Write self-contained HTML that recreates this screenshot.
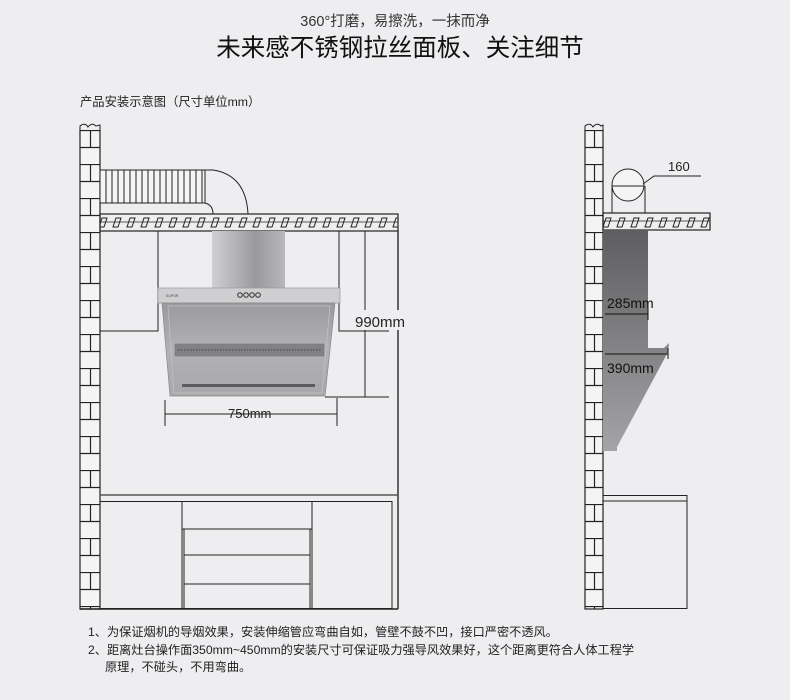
<!DOCTYPE html>
<html><head><meta charset="utf-8"><style>
html,body{margin:0;padding:0;background:#eeeef0;}
svg{display:block;font-family:"Liberation Sans","Noto Sans CJK SC",sans-serif;}
</style></head><body>
<svg width="790" height="700" viewBox="0 0 790 700" xmlns="http://www.w3.org/2000/svg">
<defs>
<pattern id="brickL" x="80" y="130" width="20" height="34" patternUnits="userSpaceOnUse">
<rect width="20" height="34" fill="#f4f4f5"/>
<line x1="0" y1="0.5" x2="20" y2="0.5" stroke="#222" stroke-width="1.2"/>
<line x1="0" y1="17.5" x2="20" y2="17.5" stroke="#222" stroke-width="1.2"/>
<line x1="10.5" y1="0" x2="10.5" y2="17" stroke="#222" stroke-width="1.2"/>
</pattern>
<pattern id="brickR" x="585" y="130" width="18" height="34" patternUnits="userSpaceOnUse">
<rect width="18" height="34" fill="#f4f4f5"/>
<line x1="0" y1="0.5" x2="18" y2="0.5" stroke="#222" stroke-width="1.2"/>
<line x1="0" y1="17.5" x2="18" y2="17.5" stroke="#222" stroke-width="1.2"/>
<line x1="9.5" y1="0" x2="9.5" y2="17" stroke="#222" stroke-width="1.2"/>
</pattern>
<pattern id="hatch" x="0" y="214" width="14" height="17" patternUnits="userSpaceOnUse">
<path d="M4 4 L9 4 L6 13 L1 13 Z" fill="none" stroke="#222" stroke-width="1"/>
</pattern>
<linearGradient id="hoodg" x1="0" y1="0" x2="0" y2="1">
<stop offset="0" stop-color="#9a9a9c"/><stop offset="0.5" stop-color="#b2b2b4"/><stop offset="1" stop-color="#a8a8aa"/>
</linearGradient>
<linearGradient id="chim" x1="0" y1="0" x2="1" y2="0">
<stop offset="0" stop-color="#d0d0d2"/><stop offset="0.6" stop-color="#9a9a9c"/><stop offset="1" stop-color="#b8b8ba"/>
</linearGradient>
<linearGradient id="side" x1="0" y1="0" x2="0" y2="1">
<stop offset="0" stop-color="#5e5e60"/><stop offset="1" stop-color="#a4a4a6"/>
</linearGradient>
</defs>

<text x="395" y="26" font-size="14.5" fill="#333" text-anchor="middle">360°打磨，易擦洗，一抹而净</text>
<text x="400" y="56" font-size="24.5" fill="#111" text-anchor="middle">未来感不锈钢拉丝面板、关注细节</text>
<text x="80" y="106" font-size="12.3" fill="#222">产品安装示意图（尺寸单位mm）</text>

<!-- LEFT DRAWING -->
<rect x="80" y="130" width="20" height="479" fill="url(#brickL)" stroke="#222" stroke-width="1.2"/>
<path d="M80 130 L80 126 Q85 122 88 127 Q92 122 96 126 L100 125 L100 130" fill="#eeeef0" stroke="#222"/>
<rect x="100" y="170" width="105" height="33" fill="#f4f4f5" stroke="#222"/>
<g stroke="#222" stroke-width="1">
<line x1="106" y1="170" x2="106" y2="203"/><line x1="112" y1="170" x2="112" y2="203"/><line x1="118" y1="170" x2="118" y2="203"/><line x1="124" y1="170" x2="124" y2="203"/><line x1="130" y1="170" x2="130" y2="203"/><line x1="136" y1="170" x2="136" y2="203"/><line x1="142" y1="170" x2="142" y2="203"/><line x1="148" y1="170" x2="148" y2="203"/><line x1="154" y1="170" x2="154" y2="203"/><line x1="160" y1="170" x2="160" y2="203"/><line x1="166" y1="170" x2="166" y2="203"/><line x1="172" y1="170" x2="172" y2="203"/><line x1="178" y1="170" x2="178" y2="203"/><line x1="184" y1="170" x2="184" y2="203"/><line x1="190" y1="170" x2="190" y2="203"/><line x1="196" y1="170" x2="196" y2="203"/><line x1="202" y1="170" x2="202" y2="203"/>
</g>
<path d="M205 170 L213 170 Q246 175 248 214" fill="none" stroke="#222"/>
<path d="M205 203 Q213 205 213 214" fill="none" stroke="#222"/>
<rect x="100" y="214" width="298" height="17" fill="url(#hatch)" stroke="#222" stroke-width="1.2"/>
<line x1="100" y1="222" x2="398" y2="222" stroke="#222" stroke-width="0.8"/>
<line x1="398" y1="231" x2="398" y2="609" stroke="#333" stroke-width="1.5"/>
<path d="M158 231 L158 331 L100 331" fill="none" stroke="#222"/>
<path d="M339 231 L339 331 L389 331" fill="none" stroke="#222"/>
<line x1="365" y1="231" x2="365" y2="397" stroke="#222"/>
<line x1="325" y1="397" x2="389" y2="397" stroke="#222"/>
<!-- hood -->
<rect x="212" y="231" width="73" height="58" fill="url(#chim)"/>
<rect x="158" y="288" width="182" height="15" fill="#cfcfd1" stroke="#999" stroke-width="0.7"/>
<circle cx="240" cy="295" r="2.3" fill="none" stroke="#333"/><circle cx="246" cy="295" r="2.3" fill="none" stroke="#333"/><circle cx="252" cy="295" r="2.3" fill="none" stroke="#333"/><circle cx="258" cy="295" r="2.3" fill="none" stroke="#333"/>
<text x="166" y="297" font-size="3.5" fill="#444">SUPOR</text>
<path d="M162 303 L335 303 L325 396 L170 396 Z" fill="url(#hoodg)" stroke="#888" stroke-width="0.7"/>
<path d="M168 306 L330 306 L322 393 L174 393 Z" fill="none" stroke="#c4c4c6" stroke-width="0.7"/>
<rect x="175" y="344" width="149" height="12" fill="#828284" stroke="#777" stroke-width="0.6"/>
<line x1="178" y1="350" x2="321" y2="350" stroke="#555" stroke-width="1.5" stroke-dasharray="1.5 1.5"/>
<rect x="182" y="384" width="133" height="3" fill="#5c5c5e"/>
<rect x="355" y="310" width="60" height="20" fill="#eeeef0"/>
<text x="355" y="327" font-size="15" fill="#222">990mm</text>
<line x1="165" y1="400" x2="165" y2="426" stroke="#222"/>
<line x1="337" y1="398" x2="337" y2="426" stroke="#222"/>
<line x1="165" y1="414" x2="337" y2="414" stroke="#222"/>
<text x="228" y="418" font-size="13" fill="#222">750mm</text>
<!-- cabinet -->
<line x1="100" y1="495" x2="398" y2="495" stroke="#555" stroke-width="1.5"/>
<g fill="none" stroke="#222" stroke-width="1">
<rect x="100" y="501.5" width="292" height="107"/>
<line x1="182" y1="501" x2="182" y2="609"/><line x1="184" y1="529" x2="184" y2="609"/>
<line x1="312" y1="501" x2="312" y2="609"/><line x1="310" y1="529" x2="310" y2="609"/>
<line x1="182" y1="529" x2="312" y2="529"/>
<line x1="184" y1="555" x2="310" y2="555"/>
<line x1="184" y1="584" x2="310" y2="584"/>
</g>
<line x1="80" y1="609" x2="398" y2="609" stroke="#222" stroke-width="1.5"/>

<!-- RIGHT DRAWING -->
<rect x="585" y="130" width="18" height="479" fill="url(#brickR)" stroke="#222" stroke-width="1.2"/>
<path d="M585 130 L585 126 Q590 122 593 127 Q597 122 601 126 L603 125 L603 130" fill="#eeeef0" stroke="#222"/>
<path d="M612 186 L612 213 M645 186 L645 213" stroke="#222" fill="none"/>
<circle cx="628" cy="185" r="16" fill="#f4f4f5" stroke="#222"/>
<line x1="612" y1="186" x2="644" y2="186" stroke="#222"/>
<path d="M643 184 L654 176 L701 176" fill="none" stroke="#222"/>
<text x="668" y="171" font-size="13" fill="#222">160</text>
<rect x="603" y="213" width="107" height="17" fill="url(#hatch)" stroke="#222" stroke-width="1.2"/>
<line x1="603" y1="221" x2="710" y2="221" stroke="#222" stroke-width="0.8"/>
<path d="M603 230 L648 230 L648 348 L664 348 L669 343 L668 352 L617 447 L617 451 L603 451 Z" fill="url(#side)"/>
<line x1="605" y1="314" x2="648" y2="314" stroke="#111"/>
<line x1="648" y1="308" x2="648" y2="320" stroke="#111"/>
<line x1="605" y1="354" x2="668" y2="354" stroke="#111"/>
<line x1="668" y1="348" x2="668" y2="359" stroke="#111"/>
<text x="607" y="308" font-size="14" fill="#111">285mm</text>
<text x="607" y="373" font-size="14" fill="#111">390mm</text>
<g fill="none" stroke="#222">
<rect x="603" y="495.5" width="84" height="113"/>
<line x1="603" y1="501" x2="687" y2="501"/>
</g>

<text x="88" y="636" font-size="12.2" fill="#222">1、为保证烟机的导烟效果，安装伸缩管应弯曲自如，管壁不鼓不凹，接口严密不透风。</text>
<text x="88" y="654" font-size="12.2" fill="#222">2、距离灶台操作面350mm~450mm的安装尺寸可保证吸力强导风效果好，这个距离更符合人体工程学</text>
<text x="105" y="671" font-size="12.2" fill="#222">原理，不碰头，不用弯曲。</text>
</svg>
</body></html>
